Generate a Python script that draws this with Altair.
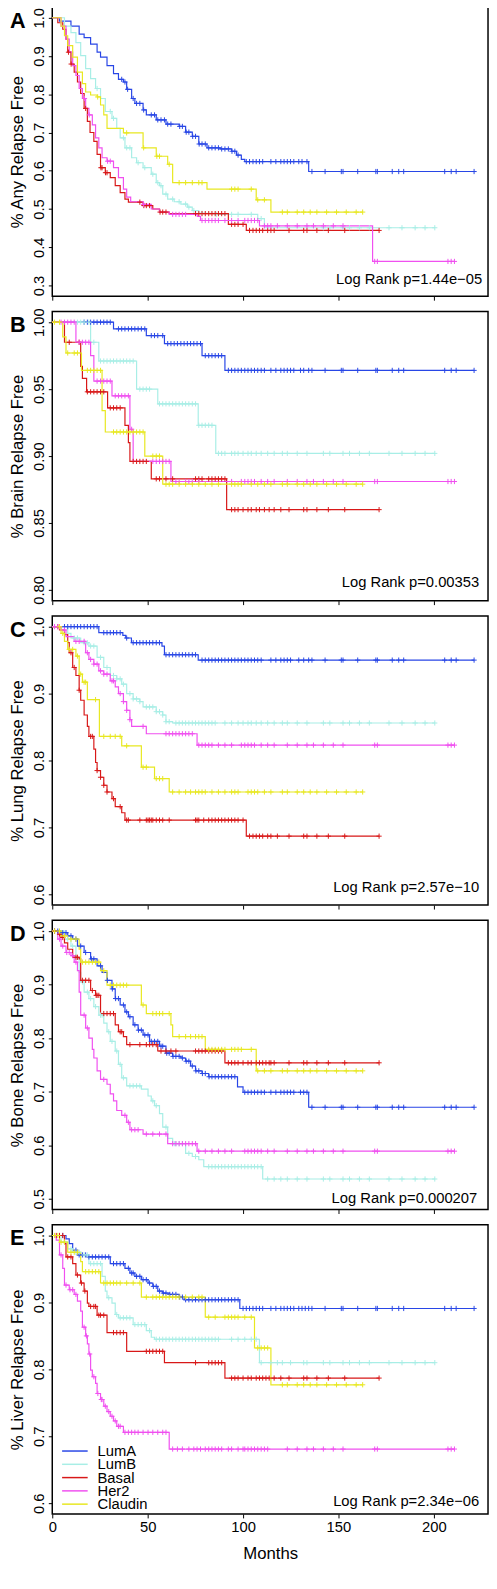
import altair as alt
import pandas as pd

FONT = "Liberation Sans"
SUBTYPES = ["LumA", "LumB", "Basal", "Her2", "Claudin"]
COLORS = ["#2846E6", "#A8EEE6", "#D81818", "#F050F0", "#E8E820"]
X_TICKS = [0, 50, 100, 150, 200]
LETTERS = ["A", "B", "C", "D", "E"]
Y_TITLES = ["% Any Relapse Free", "% Brain Relapse Free", "% Lung Relapse Free",
            "% Bone Relapse Free", "% Liver Relapse Free"]
LOGRANK = ["Log Rank p=1.44e\u221205", "Log Rank p=0.00353", "Log Rank p=2.57e\u221210",
           "Log Rank p=0.000207", "Log Rank p=2.34e\u221206"]
Y_TICKS = [[0.3, 0.4, 0.5, 0.6, 0.7, 0.8, 0.9, 1.0],
           [0.80, 0.85, 0.90, 0.95, 1.00],
           [0.6, 0.7, 0.8, 0.9, 1.0],
           [0.5, 0.6, 0.7, 0.8, 0.9, 1.0],
           [0.6, 0.7, 0.8, 0.9, 1.0]]

# ---- censoring tails (late follow-up, months) per subtype ----
LUMA_TAIL = [136.1, 143.0, 151.5, 152.4, 160.1, 169.6, 170.4, 178.2, 181.6, 184.2, 205.7, 209.1, 211.7, 221.1]
LUMB_TAIL = [142.1, 145.5, 152.4, 155.8, 161.0, 166.2, 176.5, 183.3, 190.2, 195.4, 200.5]
BASAL_TAIL = [124.1, 131.8, 133.5, 138.7, 144.7, 153.3, 171.3]
HER2_TAIL = [123.2, 128.4, 133.5, 136.9, 142.1, 147.3, 152.4, 169.0, 170.4, 207.4, 209.1, 210.8]
CLAUDIN_TAIL = [120.6, 123.2, 128.4, 131.8, 135.2, 138.7, 143.8, 149.0, 154.1, 159.3, 162.7]

# ================= Panel A: any relapse =================
A_LUMA_T = [3.8, 9.8, 14.1, 16.7, 20.1, 23.5, 25.3, 28.7, 32.1, 34.7, 37.3, 39.0, 41.6, 43.3, 47.6, 49.3, 54.5, 59.6, 66.5, 69.9, 73.4, 76.8, 81.1, 88.0, 94.0, 96.6, 99.1, 100.9, 134.4]
A_LUMA_S = [0.991, 0.978, 0.957, 0.948, 0.931, 0.910, 0.897, 0.875, 0.854, 0.839, 0.832, 0.813, 0.789, 0.776, 0.759, 0.746, 0.733, 0.722, 0.716, 0.701, 0.690, 0.670, 0.660, 0.657, 0.651, 0.641, 0.630, 0.624, 0.598]
A_LUMA_C = [36.4, 38.1, 39.5, 42.4, 44.2, 45.9, 47.9, 51.9, 53.6, 55.3, 57.0, 58.8, 60.5, 62.2, 66.8, 68.2, 70.2, 71.6, 73.6, 75.1, 77.0, 78.5, 80.2, 82.0, 83.7, 85.4, 87.1, 88.8, 90.5, 92.3, 94.2, 95.7, 97.4, 101.7, 103.4, 105.2, 106.9, 108.6, 110.3, 114.6, 117.2, 119.8, 121.5, 123.2, 124.9, 126.6, 129.2, 130.9, 133.5] + LUMA_TAIL
A_LUMB_T = [6.4, 9.8, 12.4, 14.9, 17.5, 20.1, 22.7, 25.3, 27.8, 31.3, 33.8, 35.6, 38.1, 41.6, 44.2, 47.6, 51.9, 54.5, 56.2, 57.9, 60.5, 63.9, 67.4, 70.8, 73.4, 76.8, 85.4, 107.7, 111.2]
A_LUMB_S = [0.978, 0.961, 0.935, 0.901, 0.867, 0.841, 0.815, 0.789, 0.755, 0.737, 0.711, 0.686, 0.660, 0.634, 0.621, 0.608, 0.591, 0.569, 0.561, 0.539, 0.526, 0.519, 0.513, 0.505, 0.496, 0.489, 0.486, 0.475, 0.451]
A_LUMB_C = [23.5, 30.4, 32.1, 37.3, 39.0, 40.7, 45.0, 48.5, 52.7, 55.3, 57.0, 59.6, 63.1, 66.5, 69.9, 71.6, 74.2, 78.5, 86.0, 94.0, 97.4, 104.3, 109.5] + LUMB_TAIL
A_BASAL_T = [2.9, 5.5, 7.2, 8.1, 9.8, 11.5, 13.2, 14.9, 16.7, 18.4, 19.8, 21.8, 23.5, 25.3, 27.8, 30.4, 33.0, 35.6, 38.1, 39.9, 47.6, 52.7, 56.2, 61.3, 92.3, 101.7]
A_BASAL_S = [0.987, 0.970, 0.944, 0.910, 0.879, 0.858, 0.832, 0.802, 0.763, 0.729, 0.700, 0.677, 0.643, 0.608, 0.595, 0.582, 0.561, 0.543, 0.526, 0.518, 0.509, 0.500, 0.492, 0.488, 0.460, 0.444]
A_BASAL_C = [8.5, 9.9, 17.5, 25.5, 26.1, 27.9, 28.7, 45.9, 48.0, 49.3, 51.0, 56.5, 57.9, 59.6, 75.1, 76.8, 78.5, 80.2, 82.0, 83.7, 85.4, 87.1, 88.8, 90.5, 94.0, 95.7, 97.4, 100.0, 103.4, 105.2, 106.9, 108.6, 110.3, 112.9, 114.6, 116.3] + BASAL_TAIL
A_HER2_T = [4.6, 7.2, 8.9, 10.7, 12.4, 14.1, 15.8, 17.5, 19.2, 21.0, 22.7, 24.4, 26.1, 28.7, 32.1, 34.7, 37.3, 39.0, 41.1, 47.6, 51.9, 56.2, 61.3, 76.0, 77.7, 108.6, 167.9]
A_HER2_S = [0.978, 0.944, 0.910, 0.875, 0.849, 0.815, 0.789, 0.763, 0.746, 0.720, 0.686, 0.660, 0.634, 0.625, 0.608, 0.582, 0.552, 0.531, 0.519, 0.512, 0.500, 0.492, 0.486, 0.481, 0.470, 0.456, 0.363]
A_HER2_C = [16.9, 19.4, 29.0, 30.4, 47.9, 63.1, 64.8, 66.5, 68.2, 69.9, 78.5, 80.2, 82.0, 83.7, 85.4, 87.1, 90.5, 94.0, 97.4, 100.9, 102.6, 104.3, 106.0, 107.7, 111.2, 112.9, 114.6, 118.0] + HER2_TAIL
A_CLAUDIN_T = [4.6, 6.4, 8.1, 10.7, 13.2, 15.8, 17.5, 20.1, 23.5, 25.3, 27.0, 28.7, 37.3, 47.6, 54.5, 60.5, 63.1, 81.1, 106.9, 114.6]
A_CLAUDIN_S = [0.978, 0.953, 0.927, 0.897, 0.858, 0.828, 0.806, 0.798, 0.793, 0.772, 0.746, 0.711, 0.699, 0.660, 0.638, 0.617, 0.569, 0.552, 0.524, 0.492]
A_CLAUDIN_C = [23.8, 39.0, 47.9, 54.8, 56.2, 61.3, 66.5, 69.9, 73.4, 76.8, 78.5, 94.0, 95.7, 97.4, 104.3, 107.7, 111.2] + CLAUDIN_TAIL

# ================= Panel B: brain relapse =================
B_LUMA_T = [32.1, 49.3, 58.8, 78.5, 90.5]
B_LUMA_S = [0.995, 0.990, 0.984, 0.975, 0.964]
B_LUMA_C = [16.7, 18.4, 20.1, 21.8, 23.5, 25.3, 27.0, 28.7, 30.4, 34.7, 36.4, 38.1, 39.9, 41.6, 43.3, 45.0, 46.7, 48.5, 51.9, 53.6, 55.3, 57.9, 60.5, 62.2, 63.9, 65.6, 67.4, 69.1, 70.8, 72.5, 74.2, 75.9, 77.7, 80.2, 82.0, 83.7, 85.4, 87.1, 88.8, 92.3, 94.0, 95.7, 97.4, 99.1, 100.9, 102.6, 104.3, 106.0, 107.7, 109.5, 111.2, 114.6, 117.2, 119.8, 121.5, 123.2, 124.9, 126.6, 130.1, 131.8, 134.4] + LUMA_TAIL
B_LUMB_T = [20.1, 24.4, 44.2, 55.3, 76.5, 85.7]
B_LUMB_S = [0.985, 0.971, 0.950, 0.939, 0.923, 0.902]
B_LUMB_C = [13.2, 14.9, 16.7, 19.2, 21.8, 25.3, 27.0, 28.7, 30.4, 32.1, 33.8, 35.6, 37.3, 39.0, 40.7, 42.4, 45.9, 47.6, 49.3, 51.0, 56.2, 57.9, 59.6, 61.3, 63.1, 64.8, 66.5, 68.2, 69.9, 71.6, 73.4, 75.1, 76.8, 78.5, 80.2, 82.0, 83.7, 87.1, 88.8, 90.5, 94.0, 95.7, 97.4, 100.0, 102.6, 104.3, 106.9, 109.5, 112.9, 116.3, 120.6, 123.2, 128.4, 133.5] + LUMB_TAIL
B_BASAL_T = [6.4, 14.9, 15.8, 18.0, 29.0, 38.1, 39.9, 40.7, 51.9, 91.4]
B_BASAL_S = [0.985, 0.967, 0.958, 0.948, 0.936, 0.923, 0.910, 0.896, 0.883, 0.860]
B_BASAL_C = [8.9, 14.1, 18.4, 20.1, 21.8, 23.5, 25.3, 27.0, 30.4, 32.1, 33.8, 35.6, 42.4, 44.2, 45.9, 47.6, 49.3, 54.5, 56.2, 59.6, 63.1, 75.1, 76.8, 78.5, 82.0, 83.7, 85.4, 87.1, 88.8, 90.5, 94.0, 95.7, 97.4, 100.0, 102.6, 104.3, 106.9, 108.6, 111.2, 113.7, 116.3, 119.8] + BASAL_TAIL
B_HER2_T = [12.4, 20.1, 21.8, 31.3, 40.7, 42.4, 62.2]
B_HER2_S = [0.985, 0.975, 0.956, 0.945, 0.920, 0.896, 0.881]
B_HER2_C = [4.6, 6.4, 8.1, 9.8, 11.5, 14.1, 15.8, 17.5, 19.2, 23.5, 25.3, 27.0, 28.7, 30.4, 33.0, 34.7, 36.4, 38.1, 39.9, 41.6, 52.7, 54.5, 56.2, 57.9, 59.6, 61.3, 64.8, 66.5, 69.9, 71.6, 73.4, 76.8, 94.0, 99.1, 100.9, 102.6, 104.3, 106.0, 109.5, 112.9, 116.3] + HER2_TAIL
B_CLAUDIN_T = [5.5, 7.2, 15.3, 26.1, 27.8, 48.5, 57.9]
B_CLAUDIN_S = [0.989, 0.977, 0.964, 0.934, 0.918, 0.900, 0.879]
B_CLAUDIN_C = [1.2, 3.8, 8.1, 11.5, 13.2, 18.4, 20.1, 21.8, 23.5, 25.3, 32.1, 33.8, 35.6, 37.3, 39.0, 40.7, 42.4, 44.2, 45.9, 47.6, 52.7, 54.5, 56.2, 59.6, 61.3, 63.1, 66.5, 69.9, 73.4, 76.8, 80.2, 83.7, 87.1, 94.0, 95.7, 97.4, 99.1, 104.3, 107.7, 111.2, 114.6] + CLAUDIN_TAIL

# ================= Panel C: lung relapse =================
C_LUMA_T = [24.4, 37.0, 38.5, 41.5, 57.5, 58.8, 76.5]
C_LUMA_S = [0.991, 0.987, 0.983, 0.976, 0.971, 0.958, 0.950]
C_LUMA_C = [6.4, 8.1, 9.8, 11.5, 13.2, 14.9, 16.7, 18.4, 20.1, 21.8, 23.5, 27.0, 28.7, 30.4, 32.1, 33.8, 35.6, 39.0, 42.4, 44.2, 45.9, 47.6, 49.3, 51.0, 52.7, 54.5, 56.2, 59.6, 61.3, 63.1, 64.8, 66.5, 68.2, 69.9, 71.6, 73.4, 75.1, 78.5, 80.2, 82.0, 83.7, 85.4, 87.1, 88.8, 90.5, 92.3, 94.0, 95.7, 97.4, 99.1, 100.9, 102.6, 104.3, 106.0, 107.7, 109.5, 114.6, 117.2, 119.8, 121.5, 123.2, 124.9, 129.2, 131.8, 134.4] + LUMA_TAIL
C_LUMB_T = [8.1, 9.8, 14.9, 19.2, 23.5, 27.0, 30.4, 33.8, 36.4, 39.0, 42.4, 45.9, 47.6, 54.5, 57.9, 59.6, 63.1]
C_LUMB_S = [0.990, 0.983, 0.976, 0.971, 0.954, 0.939, 0.927, 0.922, 0.914, 0.900, 0.892, 0.888, 0.880, 0.873, 0.868, 0.858, 0.856]
C_LUMB_C = [11.5, 13.2, 16.7, 18.4, 20.1, 21.8, 25.3, 28.7, 32.1, 33.8, 35.6, 37.3, 40.7, 42.4, 44.2, 45.9, 49.3, 51.0, 52.7, 54.5, 56.2, 57.9, 59.6, 61.3, 64.8, 66.5, 68.2, 69.9, 71.6, 73.4, 75.1, 76.8, 78.5, 80.2, 82.0, 83.7, 85.4, 90.5, 94.0, 97.4, 100.0, 102.6, 104.3, 106.9, 109.5, 112.9, 116.3, 120.6, 123.2, 128.4, 133.5] + LUMB_TAIL
C_BASAL_T = [3.8, 6.4, 8.1, 8.9, 10.7, 12.4, 14.1, 14.9, 16.7, 18.4, 19.2, 21.8, 22.7, 23.5, 25.3, 27.0, 28.7, 31.3, 33.0, 36.4, 38.1, 101.7]
C_BASAL_S = [0.995, 0.988, 0.976, 0.961, 0.939, 0.927, 0.905, 0.890, 0.868, 0.851, 0.836, 0.817, 0.797, 0.785, 0.775, 0.763, 0.753, 0.743, 0.731, 0.722, 0.711, 0.687]
C_BASAL_C = [2.9, 9.8, 11.5, 14.1, 20.1, 21.0, 23.5, 25.3, 27.0, 28.7, 32.1, 35.6, 39.0, 39.9, 45.9, 49.3, 50.2, 51.0, 51.9, 52.7, 54.5, 56.2, 57.9, 61.3, 75.1, 75.9, 76.8, 79.4, 82.0, 83.7, 85.4, 87.1, 88.8, 90.5, 92.3, 94.0, 95.7, 97.4, 100.0, 103.4, 105.2, 106.9, 108.6, 110.3, 112.9, 114.6, 118.0] + BASAL_TAIL
C_HER2_T = [4.6, 7.2, 11.5, 17.5, 19.2, 21.8, 24.4, 27.0, 30.4, 33.0, 34.7, 37.3, 39.0, 40.7, 41.6, 49.3, 75.9]
C_HER2_S = [0.995, 0.985, 0.978, 0.961, 0.951, 0.944, 0.934, 0.929, 0.919, 0.910, 0.900, 0.888, 0.875, 0.861, 0.851, 0.840, 0.823]
C_HER2_C = [1.2, 2.9, 3.8, 6.4, 12.4, 14.1, 16.7, 18.4, 20.1, 21.8, 23.5, 25.3, 27.0, 28.7, 31.3, 32.1, 35.6, 37.3, 39.0, 40.7, 47.6, 59.6, 61.3, 63.1, 64.8, 66.5, 68.2, 69.9, 71.6, 73.4, 76.8, 78.5, 80.2, 82.0, 83.7, 87.1, 90.5, 94.0, 99.1, 100.9, 102.6, 104.3, 106.0, 109.5, 112.9, 116.3] + HER2_TAIL
C_CLAUDIN_T = [4.6, 6.4, 8.1, 12.4, 14.1, 15.8, 18.4, 24.7, 36.4, 46.7, 53.6, 61.3]
C_CLAUDIN_S = [0.990, 0.978, 0.966, 0.956, 0.929, 0.917, 0.891, 0.836, 0.822, 0.790, 0.773, 0.753]
C_CLAUDIN_C = [3.8, 5.5, 8.9, 10.7, 13.2, 14.9, 16.7, 17.5, 22.7, 27.0, 30.4, 33.0, 35.6, 39.0, 47.6, 49.3, 54.5, 56.2, 57.9, 63.1, 66.5, 69.9, 72.5, 75.1, 76.8, 78.5, 80.2, 83.7, 87.1, 90.5, 94.0, 95.7, 97.4, 102.6, 104.3, 106.0, 107.7, 111.2, 114.6] + CLAUDIN_TAIL

# ================= Panel D: bone relapse =================
D_LUMA_T = [4.6, 8.1, 10.7, 13.2, 16.7, 20.1, 23.5, 26.1, 28.7, 31.3, 33.0, 35.6, 38.1, 39.9, 42.4, 45.0, 47.6, 51.0, 56.2, 59.6, 63.1, 67.4, 69.9, 72.5, 75.1, 78.5, 82.0, 97.1, 100.0, 134.4]
D_LUMA_S = [0.997, 0.991, 0.985, 0.972, 0.960, 0.948, 0.935, 0.923, 0.908, 0.892, 0.874, 0.862, 0.849, 0.840, 0.825, 0.815, 0.806, 0.794, 0.785, 0.772, 0.766, 0.763, 0.757, 0.748, 0.739, 0.734, 0.728, 0.709, 0.699, 0.671]
D_LUMA_C = [1.2, 2.9, 5.5, 7.2, 9.8, 12.4, 14.9, 17.5, 20.5, 21.8, 25.3, 28.9, 31.5, 33.2, 34.7, 37.3, 39.0, 40.7, 43.3, 45.2, 46.7, 48.5, 50.2, 51.9, 53.6, 55.3, 57.0, 57.9, 60.0, 61.3, 63.3, 64.8, 66.5, 68.2, 70.2, 71.6, 73.4, 75.3, 76.8, 78.7, 80.2, 82.2, 83.7, 85.4, 87.1, 88.8, 90.5, 92.3, 94.0, 95.7, 100.9, 102.6, 104.3, 106.0, 107.7, 109.5, 111.2, 114.6, 117.2, 119.8, 121.5, 123.2, 124.9, 126.6, 130.1, 131.8, 133.5] + LUMA_TAIL
D_LUMB_T = [6.4, 9.8, 12.4, 14.1, 14.9, 16.7, 19.2, 21.8, 24.4, 27.0, 28.7, 30.4, 33.0, 34.7, 36.4, 39.0, 46.7, 50.2, 51.9, 53.6, 56.2, 57.9, 60.5, 63.1, 69.9, 73.4, 76.8, 79.4, 110.3]
D_LUMB_S = [0.985, 0.972, 0.948, 0.923, 0.905, 0.886, 0.874, 0.859, 0.843, 0.828, 0.812, 0.794, 0.776, 0.751, 0.726, 0.711, 0.705, 0.692, 0.683, 0.674, 0.659, 0.634, 0.613, 0.603, 0.585, 0.579, 0.573, 0.560, 0.537]
D_LUMB_C = [8.1, 10.7, 15.8, 18.4, 20.1, 22.7, 25.3, 26.1, 29.6, 31.3, 33.8, 35.6, 37.3, 40.7, 42.4, 44.2, 45.9, 52.7, 54.5, 59.6, 64.0, 64.8, 66.5, 68.2, 71.6, 75.1, 82.0, 83.7, 85.4, 87.1, 88.8, 90.5, 92.3, 94.0, 95.7, 97.4, 99.1, 100.9, 102.6, 104.3, 106.0, 107.7, 109.5, 112.9, 116.3, 119.8, 123.2, 128.4, 133.5] + LUMB_TAIL
D_BASAL_T = [2.9, 4.6, 6.4, 8.1, 10.7, 14.1, 14.9, 20.1, 22.7, 25.3, 33.0, 34.7, 37.3, 39.0, 55.3, 90.5]
D_BASAL_S = [0.994, 0.988, 0.978, 0.966, 0.951, 0.948, 0.908, 0.889, 0.880, 0.846, 0.825, 0.812, 0.803, 0.788, 0.776, 0.754]
D_BASAL_C = [1.2, 3.8, 5.5, 12.4, 13.2, 15.8, 17.5, 19.2, 21.0, 23.0, 23.5, 24.4, 27.0, 28.7, 30.4, 32.1, 35.6, 36.4, 40.7, 45.9, 49.3, 51.0, 52.7, 54.5, 57.0, 59.6, 62.2, 64.8, 75.1, 76.8, 78.5, 80.2, 82.0, 83.7, 85.4, 87.1, 88.8, 92.3, 94.0, 95.7, 97.4, 100.0, 102.6, 104.3, 106.9, 108.6, 110.3, 112.0, 113.7, 114.6, 116.3] + BASAL_TAIL
D_HER2_T = [2.9, 4.6, 7.2, 9.8, 11.5, 13.2, 14.1, 14.9, 17.5, 19.2, 21.0, 21.8, 23.5, 25.3, 28.7, 30.4, 32.1, 33.8, 36.4, 39.0, 40.7, 47.6, 60.5, 75.9]
D_HER2_S = [0.985, 0.972, 0.960, 0.954, 0.942, 0.926, 0.886, 0.843, 0.819, 0.800, 0.779, 0.763, 0.739, 0.723, 0.714, 0.696, 0.683, 0.665, 0.656, 0.643, 0.629, 0.621, 0.603, 0.589]
D_HER2_C = [3.8, 5.5, 7.6, 8.9, 10.7, 12.4, 16.7, 18.4, 27.0, 38.1, 39.9, 41.6, 43.3, 45.0, 49.3, 52.7, 56.2, 59.6, 63.1, 64.8, 66.5, 68.2, 69.9, 71.6, 73.4, 75.1, 76.8, 80.2, 83.7, 87.1, 90.5, 94.0, 100.9, 102.6, 104.3, 106.0, 107.7, 109.5, 112.9, 116.3] + HER2_TAIL
D_CLAUDIN_T = [4.6, 8.1, 14.1, 14.9, 25.3, 28.7, 46.7, 49.3, 62.2, 63.1, 80.2, 106.9]
D_CLAUDIN_S = [0.991, 0.985, 0.966, 0.942, 0.926, 0.899, 0.862, 0.846, 0.825, 0.803, 0.779, 0.739]
D_CLAUDIN_C = [1.2, 3.8, 6.4, 9.8, 12.4, 15.8, 17.5, 19.2, 21.0, 22.7, 24.4, 27.0, 30.4, 32.1, 33.8, 35.6, 37.3, 39.0, 47.6, 52.7, 54.5, 56.2, 57.9, 61.3, 66.5, 69.9, 72.5, 75.1, 76.8, 78.5, 82.0, 83.7, 85.4, 87.1, 88.8, 90.5, 94.0, 95.7, 97.4, 99.1, 104.3, 107.7, 111.2, 114.6] + CLAUDIN_TAIL

# ================= Panel E: liver relapse =================
E_LUMA_T = [7.2, 8.9, 10.7, 13.2, 18.4, 30.4, 38.1, 40.7, 43.3, 46.7, 50.2, 52.7, 55.3, 57.9, 61.3, 66.5, 69.1, 98.3]
E_LUMA_S = [0.995, 0.988, 0.978, 0.971, 0.968, 0.958, 0.951, 0.944, 0.939, 0.934, 0.929, 0.924, 0.917, 0.914, 0.912, 0.908, 0.904, 0.891]
E_LUMA_C = [5.5, 12.4, 14.1, 15.8, 17.5, 19.2, 21.0, 22.7, 24.4, 26.1, 27.8, 29.6, 32.1, 33.8, 35.6, 37.3, 39.9, 41.6, 42.4, 44.2, 45.9, 47.6, 49.3, 51.0, 53.0, 54.5, 56.2, 58.2, 59.6, 61.6, 63.1, 64.8, 66.8, 68.2, 69.9, 71.6, 73.4, 75.1, 76.8, 78.5, 80.2, 82.0, 83.7, 85.4, 87.1, 88.8, 90.5, 92.3, 94.0, 95.7, 97.4, 100.0, 101.7, 103.4, 105.2, 106.9, 108.6, 110.3, 114.6, 117.2, 119.8, 121.5, 123.2, 124.9, 126.6, 129.2, 130.9, 132.6, 134.4] + LUMA_TAIL
E_LUMB_T = [4.6, 8.1, 10.7, 14.9, 19.2, 26.1, 27.8, 28.7, 31.3, 33.0, 34.7, 42.4, 49.3, 51.9, 53.6, 108.6]
E_LUMB_S = [0.990, 0.980, 0.975, 0.971, 0.958, 0.939, 0.917, 0.907, 0.899, 0.882, 0.877, 0.867, 0.858, 0.848, 0.845, 0.810]
E_LUMB_C = [3.8, 6.4, 9.8, 12.4, 14.1, 16.7, 18.4, 20.1, 21.8, 23.5, 25.3, 29.6, 33.8, 35.6, 37.3, 39.0, 40.7, 43.3, 45.0, 46.7, 48.5, 51.0, 54.5, 56.2, 57.9, 59.6, 61.3, 63.1, 64.8, 66.5, 68.2, 69.9, 71.6, 73.4, 75.1, 76.8, 78.5, 80.2, 82.0, 83.7, 85.4, 87.1, 94.0, 97.4, 100.9, 104.3, 106.9, 109.5, 114.6, 118.0, 120.6, 124.9, 131.8, 133.5] + LUMB_TAIL
E_BASAL_T = [6.4, 7.2, 10.7, 12.4, 14.9, 16.7, 18.4, 19.2, 23.5, 28.7, 39.0, 58.8, 90.5]
E_BASAL_S = [0.988, 0.968, 0.958, 0.941, 0.929, 0.917, 0.899, 0.894, 0.881, 0.855, 0.827, 0.810, 0.787]
E_BASAL_C = [2.1, 3.8, 5.5, 8.1, 9.8, 13.2, 15.3, 17.1, 20.1, 21.8, 22.7, 24.4, 25.3, 27.0, 32.1, 33.8, 35.6, 37.3, 49.3, 51.0, 52.7, 54.5, 56.2, 57.9, 75.1, 82.0, 83.7, 85.4, 87.1, 88.8, 94.0, 95.7, 97.4, 100.0, 102.6, 104.3, 106.9, 108.6, 110.3, 112.0, 113.7, 116.3, 119.8] + BASAL_TAIL
E_HER2_T = [2.1, 3.8, 5.5, 6.4, 8.9, 11.5, 13.2, 14.9, 15.8, 17.5, 18.4, 19.2, 20.1, 21.0, 22.7, 23.5, 25.3, 27.0, 28.7, 30.4, 32.1, 33.8, 37.3, 61.3]
E_HER2_S = [0.993, 0.971, 0.951, 0.926, 0.919, 0.912, 0.902, 0.887, 0.863, 0.850, 0.838, 0.823, 0.799, 0.789, 0.779, 0.764, 0.755, 0.745, 0.737, 0.730, 0.723, 0.715, 0.706, 0.681]
E_HER2_C = [4.6, 7.2, 9.3, 10.7, 12.4, 16.7, 17.9, 19.6, 21.8, 23.9, 25.7, 26.1, 27.8, 29.6, 31.3, 33.0, 34.7, 35.6, 38.1, 39.9, 41.6, 43.3, 45.0, 47.6, 50.2, 52.7, 55.3, 57.9, 59.6, 63.1, 65.6, 68.2, 71.6, 74.2, 75.9, 77.7, 80.2, 82.0, 83.7, 85.4, 87.1, 88.8, 92.3, 94.0, 97.4, 100.0, 100.9, 102.6, 104.3, 106.0, 107.7, 109.5, 111.2, 112.9] + HER2_TAIL
E_CLAUDIN_T = [3.8, 8.1, 14.9, 15.8, 25.3, 46.7, 80.2, 106.0, 114.6]
E_CLAUDIN_S = [0.990, 0.975, 0.961, 0.946, 0.929, 0.908, 0.878, 0.832, 0.777]
E_CLAUDIN_C = [1.2, 2.9, 4.6, 6.4, 9.8, 11.5, 13.2, 17.5, 19.2, 21.0, 22.7, 24.4, 27.0, 28.7, 30.4, 32.1, 33.8, 35.6, 39.0, 42.4, 45.9, 49.3, 52.7, 54.5, 56.2, 57.9, 59.6, 61.3, 63.1, 64.8, 66.5, 69.9, 73.4, 76.8, 78.5, 82.0, 85.4, 90.5, 92.3, 94.0, 95.7, 97.4, 100.9, 104.3, 107.7, 109.5, 111.2, 112.9] + CLAUDIN_TAIL

PANELS = [
    [(A_LUMA_T, A_LUMA_S, A_LUMA_C), (A_LUMB_T, A_LUMB_S, A_LUMB_C), (A_BASAL_T, A_BASAL_S, A_BASAL_C), (A_HER2_T, A_HER2_S, A_HER2_C), (A_CLAUDIN_T, A_CLAUDIN_S, A_CLAUDIN_C)],
    [(B_LUMA_T, B_LUMA_S, B_LUMA_C), (B_LUMB_T, B_LUMB_S, B_LUMB_C), (B_BASAL_T, B_BASAL_S, B_BASAL_C), (B_HER2_T, B_HER2_S, B_HER2_C), (B_CLAUDIN_T, B_CLAUDIN_S, B_CLAUDIN_C)],
    [(C_LUMA_T, C_LUMA_S, C_LUMA_C), (C_LUMB_T, C_LUMB_S, C_LUMB_C), (C_BASAL_T, C_BASAL_S, C_BASAL_C), (C_HER2_T, C_HER2_S, C_HER2_C), (C_CLAUDIN_T, C_CLAUDIN_S, C_CLAUDIN_C)],
    [(D_LUMA_T, D_LUMA_S, D_LUMA_C), (D_LUMB_T, D_LUMB_S, D_LUMB_C), (D_BASAL_T, D_BASAL_S, D_BASAL_C), (D_HER2_T, D_HER2_S, D_HER2_C), (D_CLAUDIN_T, D_CLAUDIN_S, D_CLAUDIN_C)],
    [(E_LUMA_T, E_LUMA_S, E_LUMA_C), (E_LUMB_T, E_LUMB_S, E_LUMB_C), (E_BASAL_T, E_BASAL_S, E_BASAL_C), (E_HER2_T, E_HER2_S, E_HER2_C), (E_CLAUDIN_T, E_CLAUDIN_S, E_CLAUDIN_C)],
]

# ---------------- layout (not data) ----------------
W, H = 443, 294
X_DOMAIN = [0, 228.4]
Y_DOMAINS = [[0.272, 1.028], [0.792, 1.008], [0.584, 1.016], [0.48, 1.02], [0.584, 1.016]]
Y_FORMATS = [".1f", ".2f", ".1f", ".1f", ".1f"]
LR_RIGHT = [6, 9, 9, 11, 9]
LR_BOTTOM = [12, 14, 13, 7, 8]
LEG_ROWS = [H - 64, H - 10]
PLUS = "M-1,0L1,0M0,-1L0,1"


def surv_at(times, surv, c):
    s = 1.0
    for t, v in zip(times, surv):
        if t <= c:
            s = v
    return s


def frames(series):
    lines, cens = [], []
    for name, (T, S, C) in zip(SUBTYPES, series):
        end = max(C)
        lines.append({"subtype": name, "t": 0.0, "s": 1.0})
        for t, v in zip(T, S):
            lines.append({"subtype": name, "t": t, "s": v})
        lines.append({"subtype": name, "t": end, "s": S[-1]})
        for c in C:
            cens.append({"subtype": name, "t": c, "s": surv_at(T, S, c)})
    return pd.DataFrame(lines), pd.DataFrame(cens)


color = alt.Color("subtype:N", scale=alt.Scale(domain=SUBTYPES, range=COLORS), legend=None)


def panel(i):
    last = i == 4
    ldf, cdf = frames(PANELS[i])
    xs = alt.Scale(domain=X_DOMAIN, nice=False, zero=False)
    ys = alt.Scale(domain=Y_DOMAINS[i], nice=False, zero=False)
    if last:
        xaxis = alt.Axis(values=X_TICKS, title="Months", format="d", tickSize=4,
                         labelPadding=2, labelFontSize=15, titleFontSize=17,
                         titleFontWeight="normal", titlePadding=11, labelFlush=False,
                         labelOverlap=False, domain=False, grid=False)
    else:
        xaxis = alt.Axis(values=X_TICKS, title=None, labels=False, tickSize=4,
                         domain=False, grid=False)
    yaxis = alt.Axis(values=Y_TICKS[i], format=Y_FORMATS[i], title=Y_TITLES[i],
                     labelAngle=270, labelAlign="center", labelBaseline="bottom",
                     tickSize=4, labelPadding=2, labelFontSize=15, titleFontSize=17,
                     titleFontWeight="normal", titlePadding=5, labelFlush=False,
                     labelOverlap=False, domain=False, grid=False)
    lines = alt.Chart(ldf).mark_line(interpolate="step-after", strokeWidth=1.2).encode(
        x=alt.X("t:Q", scale=xs, axis=xaxis),
        y=alt.Y("s:Q", scale=ys, axis=yaxis),
        color=color,
    )
    marks = alt.Chart(cdf).mark_point(shape=PLUS, size=28, filled=False, strokeWidth=1,
                                       opacity=1).encode(
        x=alt.X("t:Q", scale=xs, axis=xaxis),
        y=alt.Y("s:Q", scale=ys, axis=yaxis),
        color=color,
    )
    lr = alt.Chart(pd.DataFrame({"txt": [LOGRANK[i]]})).mark_text(
        align="right", baseline="alphabetic", fontSize=15, font=FONT, color="black"
    ).encode(text="txt:N", x=alt.value(W - LR_RIGHT[i]), y=alt.value(H - LR_BOTTOM[i]))
    letter = alt.Chart(pd.DataFrame({"txt": [LETTERS[i]]})).mark_text(
        align="left", baseline="top", fontSize=22, fontWeight="bold", font=FONT, color="black"
    ).encode(text="txt:N", x=alt.value(-43), y=alt.value(4))
    layers = [lines, marks, lr, letter]
    if last:
        leg = pd.DataFrame({"subtype": SUBTYPES})
        ly = alt.Y("subtype:N", scale=alt.Scale(type="point", domain=SUBTYPES,
                                                range=LEG_ROWS, padding=0), axis=None)
        rule = alt.Chart(leg).mark_rule(strokeWidth=1.5).encode(
            x=alt.value(10), x2=alt.value(36), y=ly, color=color)
        txt = alt.Chart(leg).mark_text(align="left", baseline="middle", fontSize=15,
                                       font=FONT, color="black").encode(
            x=alt.value(46), y=ly, text="subtype:N")
        legend = alt.layer(rule, txt)
        ch = alt.layer(alt.layer(*layers), legend).resolve_scale(y="independent")
    else:
        ch = alt.layer(*layers)
    return ch.properties(width=W, height=H)


chart = alt.vconcat(*[panel(i) for i in range(5)], spacing=15.5, bounds="flush").properties(
    padding={"left": 0, "top": -15, "right": 0, "bottom": 0}
).configure_view(stroke="black", strokeWidth=1.5).configure_axis(
    labelFont=FONT, titleFont=FONT, labelColor="black", titleColor="black",
    tickColor="black", domain=False, grid=False
).configure_text(font=FONT)

chart.save("out.html", embed_options={"renderer": "svg", "actions": False})
